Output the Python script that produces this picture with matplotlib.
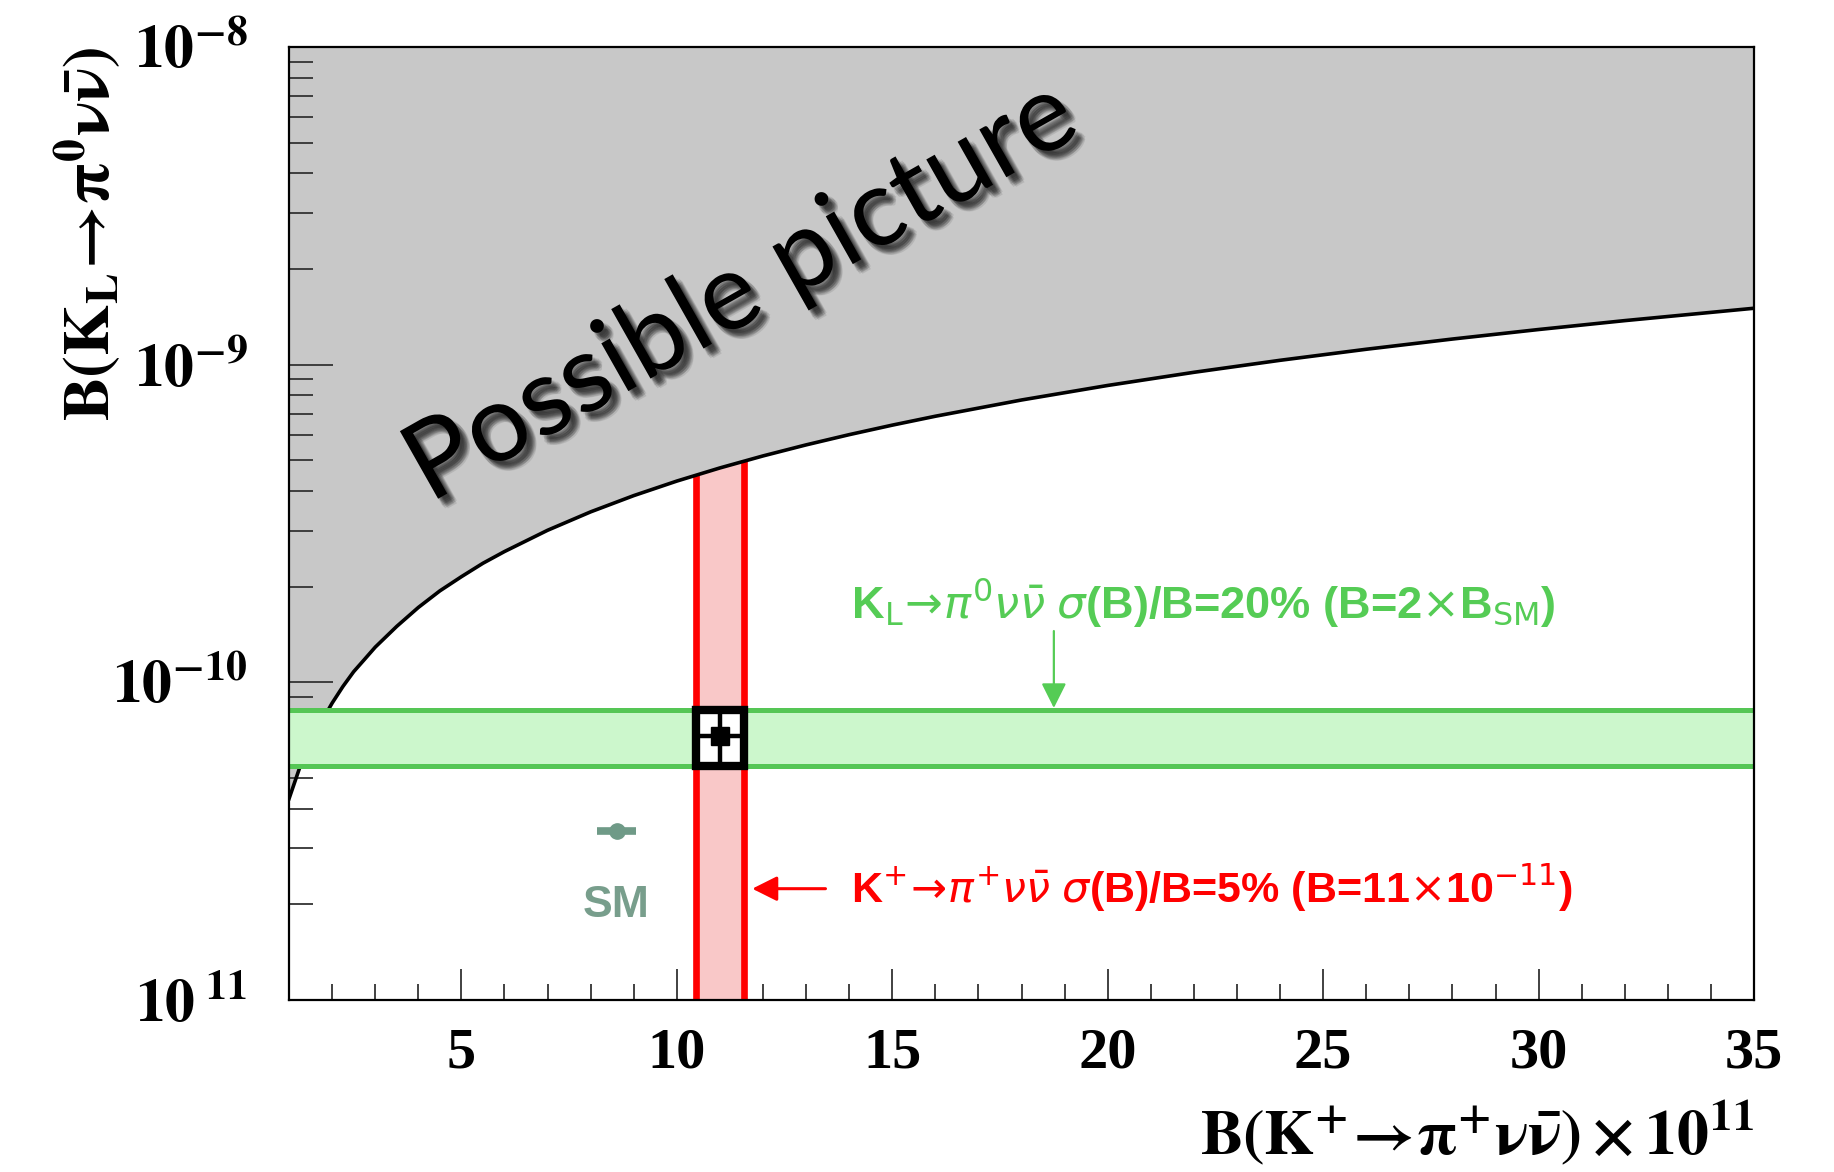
import numpy as np
import matplotlib
matplotlib.use("Agg")
import matplotlib.pyplot as plt
import matplotlib.patheffects as pe
from matplotlib.patches import Rectangle
from matplotlib.ticker import FixedLocator, FixedFormatter, LogLocator, NullFormatter, MultipleLocator

plt.rcParams['mathtext.fontset'] = 'stix'
plt.rcParams['font.family'] = ['Liberation Serif', 'DejaVu Serif']

# Upper boundary of the allowed region (x in units of 1e-11, y in units of 1e-11)
bound_x = [1.0, 1.25, 1.5, 1.75, 2.0, 2.25, 2.5, 2.75, 3.0, 3.5, 4.0, 4.5, 5.0, 5.5,
           6.0, 7.0, 8.0, 9.0, 10.0, 11.0, 12.0, 13.0, 14.0, 15.0, 16.0, 18.0, 20.0,
           22.0, 24.0, 26.0, 28.0, 30.0, 32.0, 35.0]
bound_y_e11 = [4.3, 5.4, 6.45, 7.5, 8.6, 9.7, 10.8, 11.8, 12.9, 15.0, 17.2, 19.4, 21.5,
               23.7, 25.8, 30.1, 34.4, 38.7, 43.0, 47.3, 51.6, 55.9, 60.2, 64.5, 68.8,
               77.4, 86.0, 94.6, 103.2, 111.8, 120.4, 129.0, 137.6, 150.5]
bound_y = [v * 1e-11 for v in bound_y_e11]

# Standard Model point
sm_kplus = 8.6
sm_kplus_err = 0.45
sm_kl = 3.4e-11

# Projected measurements
kplus_central = 11.0
kplus_rel_err = 0.05
kl_central = 2 * sm_kl
kl_rel_err = 0.20

x_ticks = [5, 10, 15, 20, 25, 30, 35]
x_tick_labels = ["5", "10", "15", "20", "25", "30", "35"]
y_ticks = [1e-11, 1e-10, 1e-9, 1e-8]
y_tick_labels = [r"$\mathbf{10^{\ 11}}$", r"$\mathbf{10^{-10}}$",
                 r"$\mathbf{10^{-9}}$", r"$\mathbf{10^{-8}}$"]

xmin, xmax = 1, 35
ymin, ymax = 1e-11, 1e-8

fig = plt.figure(figsize=(18.34, 11.72), dpi=100)
ax = fig.add_axes([0.1576, 0.1468, 0.7988, 0.8131])
ax.set_xlim(xmin, xmax)
ax.set_yscale('log')
ax.set_ylim(ymin, ymax)

# Possible region above the boundary
ax.fill_between(bound_x, bound_y, ymax, color='#c8c8c8', lw=0, zorder=1)
ax.plot(bound_x, bound_y, color='black', lw=2.6, zorder=4)

# K+ band
k_lo = kplus_central * (1 - kplus_rel_err)
k_hi = kplus_central * (1 + kplus_rel_err)
xs = np.linspace(k_lo, k_hi, 30)
ax.fill_between(xs, ymin, np.interp(xs, bound_x, bound_y), color='#f9c8c8', lw=0, zorder=2)
for xv in (k_lo, k_hi):
    ax.plot([xv, xv], [ymin, np.interp(xv, bound_x, bound_y)], color='#ff0000',
            lw=4.8, zorder=3, solid_capstyle='butt')

# KL band
l_lo = kl_central * (1 - kl_rel_err)
l_hi = kl_central * (1 + kl_rel_err)
ax.axhspan(l_lo, l_hi, color='#ccf7cc', lw=0, zorder=5)
for yv in (l_lo, l_hi):
    ax.axhline(yv, color='#55c655', lw=3.6, zorder=5)

# Combined measurement box
ax.add_patch(Rectangle((k_lo, l_lo), k_hi - k_lo, l_hi - l_lo, facecolor='white',
                       edgecolor='black', lw=6, zorder=7))
ax.errorbar(kplus_central, kl_central,
            xerr=[[kplus_central - k_lo], [k_hi - kplus_central]],
            yerr=[[kl_central - l_lo], [l_hi - kl_central]],
            fmt='s', color='black', ms=13, elinewidth=3.2, capsize=0, zorder=8)

# SM point
ax.errorbar(sm_kplus, sm_kl, xerr=sm_kplus_err, fmt='o', color='#6f9a87', ms=11,
            elinewidth=5.5, capsize=0, zorder=6)
ax.text(sm_kplus, 1.98e-11, "SM", ha='center', va='center', fontsize=32,
        fontweight='bold', family='Liberation Sans', color='#789e8c', zorder=6)

# Annotations
narrow = ['Liberation Sans Narrow', 'Liberation Sans']
ax.text(14.04, 1.78e-10,
        r"K$_{\mathrm{L}}\!\rightarrow\!\pi^{0}\nu\bar{\nu}$ $\sigma$(B)/B=20% (B=2$\times$B$_{\mathrm{SM}}$)",
        ha='left', va='center', color='#55cc55', fontsize=32.5, family=narrow,
        fontweight='bold', math_fontfamily='dejavusans', zorder=6)
ax.annotate('', xy=(18.75, 8.3e-11), xytext=(18.75, 1.45e-10),
            arrowprops=dict(arrowstyle='-|>', color='#55cc55', lw=1.6,
                            mutation_scale=38, shrinkA=0, shrinkB=0), zorder=6)
ax.text(14.04, 2.24e-11,
        r"K$^{+}\!\rightarrow\!\pi^{+}\nu\bar{\nu}$ $\sigma$(B)/B=5% (B=11$\times$10$^{-11}$)",
        ha='left', va='center', color='#ff0000', fontsize=31, family=narrow,
        fontweight='bold', math_fontfamily='dejavusans', zorder=6)
ax.annotate('', xy=(11.75, 2.24e-11), xytext=(13.45, 2.24e-11),
            arrowprops=dict(arrowstyle='-|>', color='#ff0000', lw=2.2,
                            mutation_scale=38, shrinkA=0, shrinkB=0), zorder=6)

# Slanted caption with soft shadow
shadow = [pe.SimplePatchShadow(offset=(dx, -dy), shadow_rgbFace='black', alpha=0.09)
          for dx, dy in [(2, 2), (3, 3), (4, 4), (5, 5), (6, 6), (7, 7),
                         (3, 5), (5, 3), (4, 6), (6, 4), (5, 7), (7, 5)]]
ax.text(0.309, 0.743, "Possible picture", transform=ax.transAxes, rotation=29.5,
        rotation_mode='anchor', ha='center', va='center', fontsize=78,
        family='Lato', color='black', zorder=9,
        path_effects=shadow + [pe.Normal()])

# Axes styling
for sp in ax.spines.values():
    sp.set_linewidth(1.6)
    sp.set_zorder(10)
ax.xaxis.set_major_locator(FixedLocator(x_ticks))
ax.xaxis.set_major_formatter(FixedFormatter(x_tick_labels))
ax.xaxis.set_minor_locator(MultipleLocator(1))
ax.yaxis.set_major_locator(FixedLocator(y_ticks))
ax.yaxis.set_major_formatter(FixedFormatter(y_tick_labels))
ax.yaxis.set_minor_locator(LogLocator(base=10, subs=np.arange(2, 10), numticks=20))
ax.yaxis.set_minor_formatter(NullFormatter())
ax.tick_params(axis='both', which='both', direction='in', top=False, right=False,
               color='#333333', width=1.3)
ax.tick_params(axis='x', which='major', length=22, pad=20, labelsize=42)
ax.tick_params(axis='x', which='minor', length=11.5)
ax.tick_params(axis='y', which='major', length=32, pad=30, labelsize=43)
ax.tick_params(axis='y', which='minor', length=17)
for lab in ax.get_xticklabels():
    lab.set_fontweight('bold')

fig.text(0.048, 1 - 47 / 1172, r"$\mathbf{B(K_{L}\!\rightarrow\!\pi^{0}\nu\bar{\nu})}$",
         rotation=90, ha='center', va='top', fontsize=47)
fig.text(1754 / 1834, 1 - 1134 / 1172,
         r"$\mathbf{B(K^{+}\!\rightarrow\!\pi^{+}\nu\bar{\nu})\times 10^{11}}$",
         ha='right', va='center', fontsize=46)

fig.savefig('out.png', dpi=100)
